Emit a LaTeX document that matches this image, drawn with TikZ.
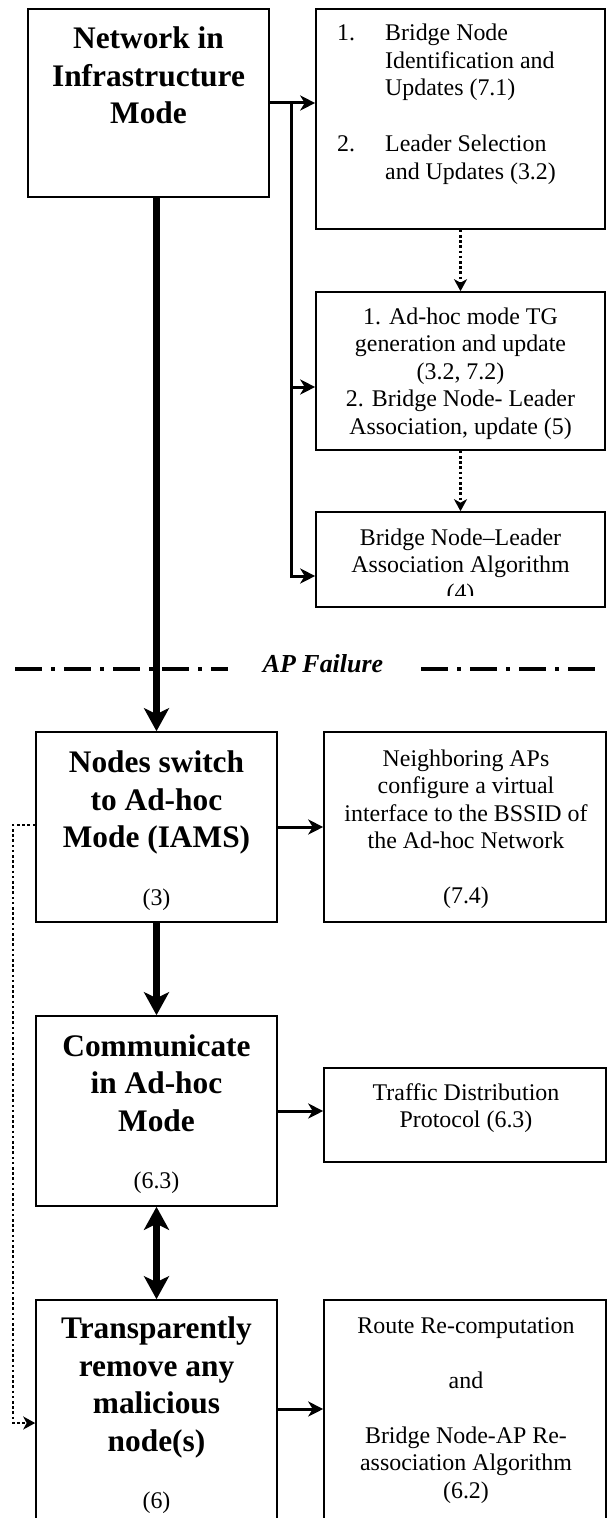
\documentclass[tikz,border=0pt]{standalone}
\usepackage{fontspec}
\setmainfont{Liberation Serif}
\usetikzlibrary{arrows.meta,positioning}

\begin{document}
\begin{tikzpicture}[x=1bp,y=-1bp]
	\tikzstyle{every node}+=[inner sep=0pt]
	\tikzstyle{box}=[draw,line width=1.6bp,rectangle]
	\tikzstyle{bold}=[font=\fontsize{31.5}{37.5}\selectfont\bfseries,align=center,anchor=base]
	\tikzstyle{txt}=[font=\fontsize{24}{27.5}\selectfont,align=center,anchor=base]
	\tikzstyle{arr}=[line width=3bp,-{Stealth[length=15bp,width=15bp,inset=4.5bp]}]
	\tikzstyle{fat}=[line width=6.5bp,-{Stealth[length=23bp,width=25bp,inset=6bp]}]
	\tikzstyle{dots}=[line width=2.6bp,dash pattern=on 2.6bp off 2.6bp,-{Stealth[length=12bp,width=13bp,inset=3.5bp]}]
	\tikzstyle{apline}=[line width=3.5bp,dash pattern=on 27bp off 9bp on 4bp off 9bp]

	\clip (0,0) rectangle (607,1518);

	% infrastructure mode (text nodes sit on their last baseline)
	\node[box,minimum width=241bp,minimum height=188bp] (net) at (148.5,103) {};
	\node[box,minimum width=289bp,minimum height=220bp] (lists) at (460.5,119) {};
	\node[box,minimum width=289bp,minimum height=158bp] (tg) at (460.5,371) {};
	\node[box,minimum width=289bp,minimum height=95bp] (algo) at (460.5,559.5) {};

	\node[bold,font=\fontsize{31.5}{38}\selectfont\bfseries] (nettx) at (148.5,124) {Network in\\Infrastructure\\Mode};
	\node[txt,anchor=base west] (n1) at (337,40.7) {1.};
	\node[txt,align=left,anchor=base west] (t1) at (385,95.7) {Bridge Node\\Identification and\\Updates (7.1)};
	\node[txt,anchor=base west] (n2) at (337,151.7) {2.};
	\node[txt,align=left,anchor=base west] (t2) at (385,179.2) {Leader Selection\\and Updates (3.2)};
	\node[txt] (tgtx) at (460.5,434) {1. Ad-hoc mode TG\\generation and update\\(3.2, 7.2)\\2. Bridge Node- Leader\\Association, update (5)};
	\begin{scope}
		\clip (316,512) rectangle (605,595);
		\node[txt] (algotx) at (460.5,600) {Bridge Node--Leader\\Association Algorithm\\(4)};
	\end{scope}

	% ad-hoc mode
	\node[box,minimum width=241bp,minimum height=190bp] (sw) at (156.5,827) {};
	\node[box,minimum width=282bp,minimum height=190bp] (nbr) at (465,827) {};
	\node[box,minimum width=241bp,minimum height=190bp] (comm) at (156.5,1111) {};
	\node[box,minimum width=282bp,minimum height=94bp] (tdp) at (465,1115) {};
	\node[box,minimum width=241bp,minimum height=240bp] (rm) at (156.5,1420) {};
	\node[box,minimum width=282bp,minimum height=240bp] (rr) at (465,1420) {};

	\node[bold] (swtx) at (156.5,847.5) {Nodes switch\\to Ad-hoc\\Mode (IAMS)};
	\node[txt] (swnum) at (156.5,905) {(3)};
	\node[txt] (nbrtx) at (466,848.7) {Neighboring APs\\configure a virtual\\interface to the BSSID of\\the Ad-hoc Network};
	\node[txt] (nbrnum) at (466,903) {(7.4)};
	\node[bold] (commtx) at (156.5,1131) {Communicate\\in Ad-hoc\\Mode};
	\node[txt] (commnum) at (156.5,1188) {(6.3)};
	\node[txt] (tdptx) at (466,1127.5) {Traffic Distribution\\Protocol (6.3)};
	\node[bold] (rmtx) at (156.5,1451) {Transparently\\remove any\\malicious\\node(s)};
	\node[txt] (rmnum) at (156.5,1508) {(6)};
	\node[txt] (rrtx) at (466,1498) {Route Re-computation\\[27.5bp]and\\[27.5bp]Bridge Node-AP Re-\\association Algorithm\\(6.2)};

	% AP failure line
	\node[font=\fontsize{26}{30}\selectfont\bfseries\itshape,anchor=base] (apf) at (323,672.7) {AP Failure};
	\draw[apline] (15,669) -- (228,669);
	\draw[apline] (421,669) -- (596,669);

	% connectors
	\coordinate (fork) at (291,103);
	\coordinate (tgin) at ([yshift=-16bp]tg.west);
	\coordinate (algoin) at ([yshift=-16.5bp]algo.west);
	\coordinate (rmout) at ([yshift=11bp]rm.east);
	\draw[arr] (net.east) -- (net.east -| lists.west);
	\draw[arr] (fork) |- (algoin);
	\draw[arr] (fork |- tgin) -- (tgin);
	\draw[dots] (lists.south) -- (tg.north);
	\draw[dots] (tg.south) -- (algo.north);

	\draw[fat] (sw.north |- net.south) -- (sw.north);
	\draw[fat] (sw.south) -- (comm.north);
	\draw[fat,{Stealth[length=23bp,width=25bp,inset=6bp]}-{Stealth[length=23bp,width=25bp,inset=6bp]}] (comm.south) -- (rm.north);

	\draw[arr] (sw.east) -- (sw.east -| nbr.west);
	\draw[arr] (comm.east) -- (comm.east -| tdp.west);
	\draw[arr] (rmout) -- (rmout -| rr.west);
	\draw[dots] ([yshift=2bp]sw.west) -- ++(-22,0) |- ([yshift=-3bp]rm.west);
\end{tikzpicture}
\end{document}
